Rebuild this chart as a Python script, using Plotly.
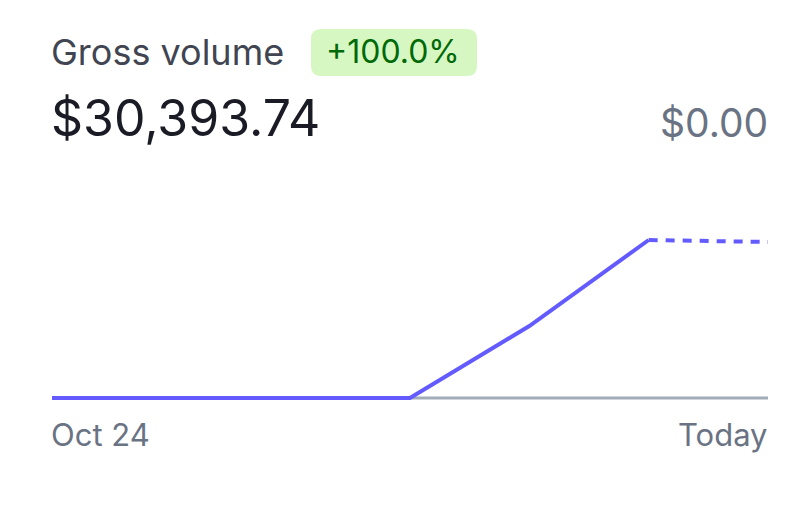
import plotly.graph_objects as go

# ---- data ----
days = ["Oct 24", "Oct 25", "Oct 26", "Oct 27", "Oct 28", "Oct 29", "Today"]
volume = [0, 0, 0, 0, 13850, 30393.74, 30010]   # cumulative gross volume
solid_idx = [0, 1, 2, 3, 4, 5]
dotted_idx = [5, 6]
title = "Gross volume"
badge = "+100.0%"
total_label = "$30,393.74"
prev_label = "$0.00"
x_first, x_last = "Oct 24", "Today"

OFF = 8                      # page body margin
W, H = 792 - 2 * OFF, 514 - 2 * OFF
L, T = 52 - OFF, 200 - OFF
R = (792 - 768) - OFF
B = H - (414 - OFF)
plot_h = H - T - B
plot_w = W - L - R
FONT = "Inter"

def px(x):   # screen pixel x -> paper
    return (x - OFF - L) / plot_w

def py(y):   # screen pixel y -> paper
    return (H - B - (y - OFF)) / plot_h

PURPLE = "#635bff"

fig = go.Figure()
fig.add_trace(go.Scatter(
    x=[days[i] for i in solid_idx], y=[volume[i] for i in solid_idx],
    mode="lines", line=dict(color=PURPLE, width=4), hoverinfo="skip",
    cliponaxis=False))
fig.add_trace(go.Scatter(
    x=[days[i] for i in dotted_idx], y=[volume[i] for i in dotted_idx],
    mode="lines", line=dict(color=PURPLE, width=4, dash="9px,8px"), hoverinfo="skip",
    cliponaxis=False))

# baseline
fig.add_shape(type="line", xref="x", yref="y", x0=days[0], x1=days[-1], y0=0, y1=0,
              line=dict(color="#a3acb9", width=3), layer="below")

# badge (rounded rect)
bx0, bx1, by0, by1, r = 311, 477, 29, 76, 10
def pp(x, y):
    return f"{px(x)},{py(y)}"
path = (f"M {pp(bx0 + r, by0)} L {pp(bx1 - r, by0)} Q {pp(bx1, by0)} {pp(bx1, by0 + r)} "
        f"L {pp(bx1, by1 - r)} Q {pp(bx1, by1)} {pp(bx1 - r, by1)} "
        f"L {pp(bx0 + r, by1)} Q {pp(bx0, by1)} {pp(bx0, by1 - r)} "
        f"L {pp(bx0, by0 + r)} Q {pp(bx0, by0)} {pp(bx0 + r, by0)} Z")
fig.add_shape(type="path", xref="paper", yref="paper", path=path,
              fillcolor="#d7f7c2", line=dict(width=0), layer="below")

def ann(text, x, y, size, color, xanchor="left"):
    fig.add_annotation(text=text, xref="paper", yref="paper", x=px(x), y=py(y),
                       xanchor=xanchor, yanchor="middle", showarrow=False,
                       font=dict(family=FONT, size=size, color=color))

ann(title, 49, 52, 36, "#414552")
ann(badge, 393, 52, 32, "#006908", "center")
ann(total_label, 49, 118, 50, "#1a1b25")
ann(prev_label, 770, 122, 39, "#6a7383", "right")
ann(x_first, 49, 434, 31, "#6a7383")
ann(x_last, 770, 434, 31, "#6a7383", "right")

ymin = -16 * 30393.74 / 158
ymax = (plot_h - 16) * 30393.74 / 158
fig.update_layout(
    width=W, height=H, margin=dict(l=L, r=R, t=T, b=B),
    paper_bgcolor="white", plot_bgcolor="white", showlegend=False,
    xaxis=dict(type="category", range=[0, 6], visible=False, fixedrange=True),
    yaxis=dict(range=[ymin, ymax], visible=False, fixedrange=True),
)
fig.write_html("out.html", config={"displayModeBar": False})
